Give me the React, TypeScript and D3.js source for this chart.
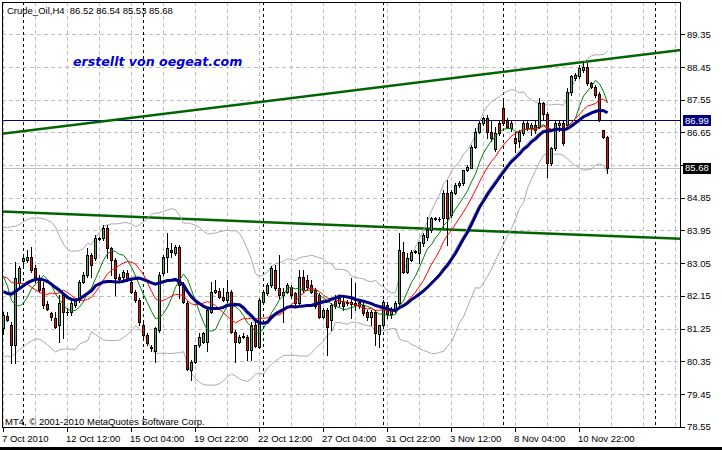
import React, { useMemo } from 'react';
import * as d3 from 'd3';

// ---------- data ----------
// OHLC of the H4 candles (oldest first)
const candles: [number, number, number, number][] = [
  [81.26, 81.72, 81.10, 81.63], [81.60, 81.70, 81.45, 81.50], [81.35, 81.44, 80.29, 80.80], [80.80, 83.09, 80.29, 82.63],
  [82.50, 82.96, 82.40, 82.91], [83.10, 83.30, 82.95, 83.19], [83.14, 83.42, 83.09, 83.23], [83.23, 83.50, 82.82, 82.87],
  [82.91, 83.00, 82.54, 82.68], [82.63, 82.73, 82.27, 82.32], [82.36, 82.54, 81.81, 81.90], [81.92, 82.00, 81.75, 81.79],
  [81.67, 81.72, 81.50, 81.56], [81.53, 81.72, 81.26, 81.30], [81.35, 82.18, 80.89, 81.95], [82.18, 82.22, 80.98, 81.72],
  [81.72, 81.81, 81.63, 81.70], [81.72, 82.04, 81.63, 81.95], [81.90, 82.08, 81.85, 82.04], [82.04, 82.59, 81.99, 82.54],
  [82.54, 82.82, 82.50, 82.73], [82.73, 83.46, 82.68, 83.28], [83.28, 83.32, 82.68, 83.00], [83.19, 83.83, 83.14, 83.74],
  [83.72, 83.78, 83.68, 83.74], [83.74, 84.10, 83.70, 84.01], [84.01, 84.10, 83.19, 83.46], [83.46, 83.50, 82.73, 83.14],
  [83.14, 83.19, 82.18, 82.63], [82.68, 82.75, 82.55, 82.62], [82.68, 82.85, 82.60, 82.82], [82.77, 82.85, 82.55, 82.59],
  [82.54, 82.59, 82.22, 82.27], [82.27, 82.32, 81.99, 82.04], [82.04, 82.08, 81.35, 81.44], [81.35, 81.42, 81.00, 81.07],
  [81.07, 81.12, 80.80, 80.85], [80.75, 80.80, 80.62, 80.71], [80.62, 81.30, 80.34, 81.26], [81.21, 82.82, 81.17, 82.73],
  [82.77, 83.28, 82.73, 83.23], [83.23, 83.87, 82.82, 83.46], [83.42, 83.60, 83.23, 83.37], [83.32, 83.55, 83.28, 83.50],
  [83.50, 83.55, 82.08, 82.45], [82.45, 82.54, 81.95, 81.97], [81.95, 82.00, 80.10, 80.15], [80.11, 80.38, 79.84, 80.34],
  [80.34, 80.80, 80.30, 80.80], [80.80, 81.12, 80.75, 81.03], [80.89, 81.17, 80.85, 81.12], [80.89, 81.81, 80.62, 81.76],
  [81.72, 82.54, 81.67, 82.27], [82.27, 82.59, 82.22, 82.30], [82.29, 82.36, 82.08, 82.13], [82.13, 82.36, 82.01, 82.04],
  [82.04, 82.59, 81.99, 82.27], [82.27, 82.32, 81.12, 81.17], [81.17, 81.21, 80.34, 80.89], [80.89, 81.07, 80.85, 81.03],
  [81.03, 81.12, 80.98, 81.05], [81.03, 81.07, 80.38, 80.66], [80.66, 81.44, 80.38, 81.35], [81.35, 81.44, 80.75, 80.77],
  [80.75, 82.08, 80.71, 82.04], [81.99, 82.32, 81.95, 82.27], [82.22, 82.50, 82.18, 82.45], [82.45, 82.96, 82.40, 82.91],
  [82.87, 83.00, 82.31, 82.36], [82.36, 83.28, 82.08, 82.18], [82.18, 82.36, 81.44, 82.27], [82.27, 82.50, 82.22, 82.45],
  [82.40, 82.45, 82.08, 82.18], [82.22, 82.27, 81.90, 81.95], [81.95, 82.87, 81.90, 82.68], [82.68, 82.87, 82.27, 82.31],
  [82.59, 82.73, 82.31, 82.40], [82.45, 82.59, 82.22, 82.27], [82.31, 82.36, 81.81, 81.86], [82.18, 82.22, 81.53, 81.58],
  [81.58, 81.81, 81.53, 81.76], [81.76, 81.81, 80.52, 81.30], [81.49, 81.95, 81.21, 81.90], [82.01, 82.18, 81.81, 81.86],
  [81.95, 82.13, 81.86, 82.08], [81.99, 82.13, 81.76, 81.86], [81.97, 82.05, 81.90, 81.95], [81.93, 82.63, 81.53, 81.99],
  [81.95, 82.50, 81.76, 81.90], [81.99, 82.04, 81.81, 81.86], [81.90, 81.95, 81.63, 81.67], [81.72, 81.76, 81.49, 81.58],
  [81.58, 81.76, 81.35, 81.72], [81.72, 81.76, 80.80, 81.12], [81.10, 81.35, 80.75, 81.35], [81.35, 82.04, 81.30, 81.99],
  [81.90, 81.99, 81.55, 81.65], [81.65, 81.85, 81.55, 81.80], [81.80, 82.00, 81.70, 81.95], [81.95, 83.87, 81.90, 83.41],
  [83.37, 83.64, 82.77, 82.82], [82.82, 83.32, 82.77, 83.19], [83.14, 83.42, 83.10, 83.37], [83.37, 83.42, 83.32, 83.38],
  [83.32, 83.64, 83.05, 83.64], [83.60, 83.87, 83.51, 83.83], [83.78, 84.33, 83.69, 83.97], [83.97, 84.33, 83.92, 84.29],
  [84.28, 84.33, 84.24, 84.29], [84.28, 84.33, 84.20, 84.27], [84.29, 85.07, 84.06, 84.98], [84.98, 85.34, 83.55, 84.29],
  [84.38, 85.07, 84.33, 85.02], [84.98, 85.25, 84.95, 85.20], [85.20, 85.30, 85.15, 85.25], [85.25, 85.62, 85.20, 85.62],
  [85.62, 85.75, 85.60, 85.71], [85.66, 86.30, 85.66, 86.26], [86.26, 86.76, 86.21, 86.67], [86.67, 86.95, 86.62, 86.90],
  [86.90, 87.08, 86.85, 87.04], [87.04, 87.13, 86.49, 86.67], [86.67, 86.95, 86.40, 86.49], [86.20, 86.80, 86.15, 86.62],
  [86.90, 87.00, 86.58, 86.62], [87.31, 87.60, 86.86, 86.90], [87.00, 87.05, 86.76, 86.81], [86.76, 86.95, 86.70, 86.90],
  [86.49, 86.67, 86.12, 86.35], [86.40, 86.72, 86.26, 86.67], [86.63, 86.95, 86.58, 86.90], [86.90, 87.00, 86.72, 86.76],
  [86.76, 86.90, 86.58, 86.86], [86.86, 87.00, 86.63, 86.72], [86.81, 87.59, 86.76, 87.45], [87.45, 87.50, 86.99, 87.17],
  [87.17, 87.22, 85.43, 85.80], [85.80, 86.26, 85.75, 86.21], [86.21, 86.95, 86.17, 86.90], [86.86, 87.00, 86.70, 86.90],
  [86.90, 86.95, 86.30, 86.35], [86.86, 87.86, 86.81, 87.77], [87.77, 88.23, 87.68, 88.19], [88.16, 88.28, 88.10, 88.23],
  [88.19, 88.51, 88.14, 88.42], [88.37, 88.60, 88.32, 88.46], [88.46, 88.55, 87.96, 88.00], [88.00, 88.05, 87.86, 87.91],
  [87.91, 87.95, 87.63, 87.68], [87.72, 87.77, 86.95, 87.00], [86.72, 86.72, 86.49, 86.53], [86.52, 86.54, 85.53, 85.68],
];

// closes of the bars just before the visible window (estimated from indicator levels at the left edge)
const priorCloses = [
  82.6, 81.2, 81.0, 81.3, 81.5, 81.6, 81.7, 81.9, 82.0, 82.4,
  82.8, 83.1, 83.1, 83.6, 83.9, 83.6, 83.2, 82.55, 81.9, 81.04,
];

const priceTicks = [78.55, 79.45, 80.35, 81.25, 82.15, 83.05, 83.95, 84.85, 85.75, 86.65, 87.55, 88.45, 89.35];
const timeLabels = ['7 Oct 2010', '12 Oct 12:00', '15 Oct 04:00', '19 Oct 22:00', '22 Oct 12:00', '27 Oct 04:00', '31 Oct 22:00', '3 Nov 12:00', '8 Nov 04:00', '10 Nov 22:00'];
const timeLabelBars = [0, 16, 32, 48, 64, 80, 96, 112, 128, 144];
const periodSeparatorBars = [5, 35, 65, 95, 125, 163];
const gridBars = d3.range(0, 170, 8);

// trend lines: [bar, price] end points
const upperTrend: [number, number][] = [[-0.4, 86.61], [169.4, 88.92]];
const lowerTrend: [number, number][] = [[-0.4, 84.47], [169.4, 83.72]];
const hLinePrice = 86.99;
const bidPrice = 85.68;

const title = 'Crude_Oil,H4  86.52 86.54 85.53 85.68';
const watermark = 'erstellt von oegeat.com';
const copyright = 'MT4, \u00a9 2001-2010 MetaQuotes Software Corp.';

// indicator periods
const fastPeriod = 8;
const midPeriod = 13;
const slowPeriod = 21;
const bbPeriod = 20;
const bbDev = 2;

// ---------- layout ----------
const W = 722, H = 450;
const L = 2, R = 681, T = 2, B = 427;

export default function App() {
  const x = d3.scaleLinear().domain([0, 1]).range([3.5, 7.5]);
  const y = d3.scaleLinear().domain([78.55, 89.35]).range([426.7, 34.3]);
  const font = "'Liberation Sans', Arial, sans-serif";
  const fs = 9.5;

  const ind = useMemo(() => {
    const closes = candles.map((c) => c[3]);
    const all = priorCloses.concat(closes);
    const P = priorCloses.length;
    const sma = (n: number) =>
      closes.map((_, i) => {
        const s = Math.max(0, i + P - n + 1);
        return d3.mean(all.slice(s, i + P + 1)) as number;
      });
    const bbMid = sma(bbPeriod);
    const bbUp: number[] = [];
    const bbLo: number[] = [];
    closes.forEach((_, i) => {
      const s = Math.max(0, i + P - bbPeriod + 1);
      const arr = all.slice(s, i + P + 1);
      const m = bbMid[i];
      const sd = Math.sqrt(d3.mean(arr.map((v) => (v - m) * (v - m))) as number);
      bbUp.push(m + bbDev * sd);
      bbLo.push(m - bbDev * sd);
    });
    return { fast: sma(fastPeriod), mid: sma(midPeriod), slow: sma(slowPeriod), bbMid, bbUp, bbLo };
  }, []);

  const line = d3.line<number>().x((_, i) => x(i)).y((d) => y(d));
  const tl = d3.line<[number, number]>().x((d) => x(d[0])).y((d) => y(d[1]));
  const snap = (v: number) => Math.round(v) + 0.5;
  const flagPrices = [hLinePrice, bidPrice];
  const visibleTicks = priceTicks.filter((p) => flagPrices.every((f) => Math.abs(y(p) - y(f)) > 9));

  return (
    <svg width={W} height={H} style={{ position: 'absolute', left: 0, top: 0, background: '#fff' }} fontFamily={font}>
      <defs>
        <clipPath id="plot">
          <rect x={L} y={T} width={R - L} height={B - T} />
        </clipPath>
      </defs>
      <rect x={0} y={0} width={W} height={H} fill="#fff" />
      {/* grid */}
      <g stroke="#c0c0c0" strokeWidth={1} strokeDasharray="4,3" shapeRendering="crispEdges">
        {priceTicks.map((p) => (
          <line key={'h' + p} x1={L} x2={R} y1={snap(y(p))} y2={snap(y(p))} />
        ))}
        {gridBars.map((b) => (
          <line key={'v' + b} x1={Math.floor(x(b)) + 0.5} x2={Math.floor(x(b)) + 0.5} y1={T} y2={B} />
        ))}
      </g>
      <g stroke="#000" strokeWidth={1} strokeDasharray="3,3" shapeRendering="crispEdges">
        {periodSeparatorBars.map((b) => (
          <line key={'s' + b} x1={Math.floor(x(b)) + 0.5} x2={Math.floor(x(b)) + 0.5} y1={T} y2={B} />
        ))}
      </g>
      <text x={7} y={14} fontSize={fs} fill="#000" xmlSpace="preserve">{title}</text>
      <text x={73} y={66} fontSize={12.6} fontWeight="bold" fontStyle="italic" fill="#0000d8" fontFamily="'DejaVu Sans', Verdana, sans-serif">{watermark}</text>
      <g clipPath="url(#plot)">
        {/* horizontal lines */}
        <line x1={L} x2={R} y1={snap(y(bidPrice))} y2={snap(y(bidPrice))} stroke="#c0c0c0" shapeRendering="crispEdges" />
        <line x1={L} x2={R} y1={snap(y(hLinePrice))} y2={snap(y(hLinePrice))} stroke="#000080" shapeRendering="crispEdges" />
        {/* trend lines */}
        <path d={tl(upperTrend) || ''} stroke="#006400" strokeWidth={2.5} fill="none" />
        <path d={tl(lowerTrend) || ''} stroke="#006400" strokeWidth={2.5} fill="none" />
        {/* bollinger */}
        <path d={line(ind.bbUp) || ''} stroke="#a9a9a9" strokeWidth={1} fill="none" />
        <path d={line(ind.bbMid) || ''} stroke="#a9a9a9" strokeWidth={1} fill="none" />
        <path d={line(ind.bbLo) || ''} stroke="#a9a9a9" strokeWidth={1} fill="none" />
        {/* candles */}
        <g shapeRendering="crispEdges">
          {candles.map(([o, h, l, c], i) => {
            const cx = Math.floor(x(i)) + 0.5;
            const top = Math.round(y(Math.max(o, c)));
            const bot = Math.round(y(Math.min(o, c)));
            const bull = c >= o;
            return (
              <g key={i}>
                <line x1={cx} x2={cx} y1={Math.round(y(h))} y2={Math.round(y(l)) + 1} stroke="#000" />
                {bot - top >= 1 ? (
                  <rect x={cx - 1} y={top + 0.5} width={2} height={bot - top} fill={bull ? '#3cb371' : '#ff0000'} stroke="#000" />
                ) : (
                  <line x1={cx - 1.5} x2={cx + 1.5} y1={top + 0.5} y2={top + 0.5} stroke="#000" />
                )}
              </g>
            );
          })}
        </g>
        {/* moving averages */}
        <path d={line(ind.fast) || ''} stroke="#008000" strokeWidth={1} fill="none" />
        <path d={line(ind.mid) || ''} stroke="#ff0000" strokeWidth={1} fill="none" />
        <path d={line(ind.slow) || ''} stroke="#000080" strokeWidth={3} fill="none" />
      </g>
      <text x={5} y={425} fontSize={fs} fill="#000">{copyright}</text>
      {/* frame */}
      <rect x={L + 0.5} y={T + 0.5} width={R - L - 1} height={B - T} fill="none" stroke="#000" shapeRendering="crispEdges" />
      {/* price axis */}
      <g fontSize={fs} fill="#000">
        {priceTicks.map((p) => (
          <line key={'pt' + p} x1={R} x2={R + 4} y1={snap(y(p))} y2={snap(y(p))} stroke="#000" shapeRendering="crispEdges" />
        ))}
        {visibleTicks.map((p) => (
          <text key={'p' + p} x={R + 6} y={y(p) + 3.5}>{p.toFixed(2)}</text>
        ))}
      </g>
      <g fontSize={fs}>
        <rect x={R + 2} y={Math.round(y(hLinePrice)) - 5} width={28} height={11} fill="#000080" />
        <text x={R + 4} y={y(hLinePrice) + 3.5} fill="#fff">{hLinePrice.toFixed(2)}</text>
        <rect x={R + 2} y={Math.round(y(bidPrice)) - 5} width={28} height={11} fill="#000" />
        <text x={R + 4} y={y(bidPrice) + 3.5} fill="#fff">{bidPrice.toFixed(2)}</text>
      </g>
      {/* time axis */}
      <g fontSize={fs} fill="#000">
        {timeLabelBars.map((b, k) => (
          <g key={'t' + b}>
            <line x1={Math.floor(x(b)) + 0.5} x2={Math.floor(x(b)) + 0.5} y1={B} y2={B + 5} stroke="#000" shapeRendering="crispEdges" />
            <text x={Math.floor(x(b)) - 1} y={442}>{timeLabels[k]}</text>
          </g>
        ))}
      </g>
      <rect x={0} y={447} width={W} height={3} fill="#000" />
    </svg>
  );
}
